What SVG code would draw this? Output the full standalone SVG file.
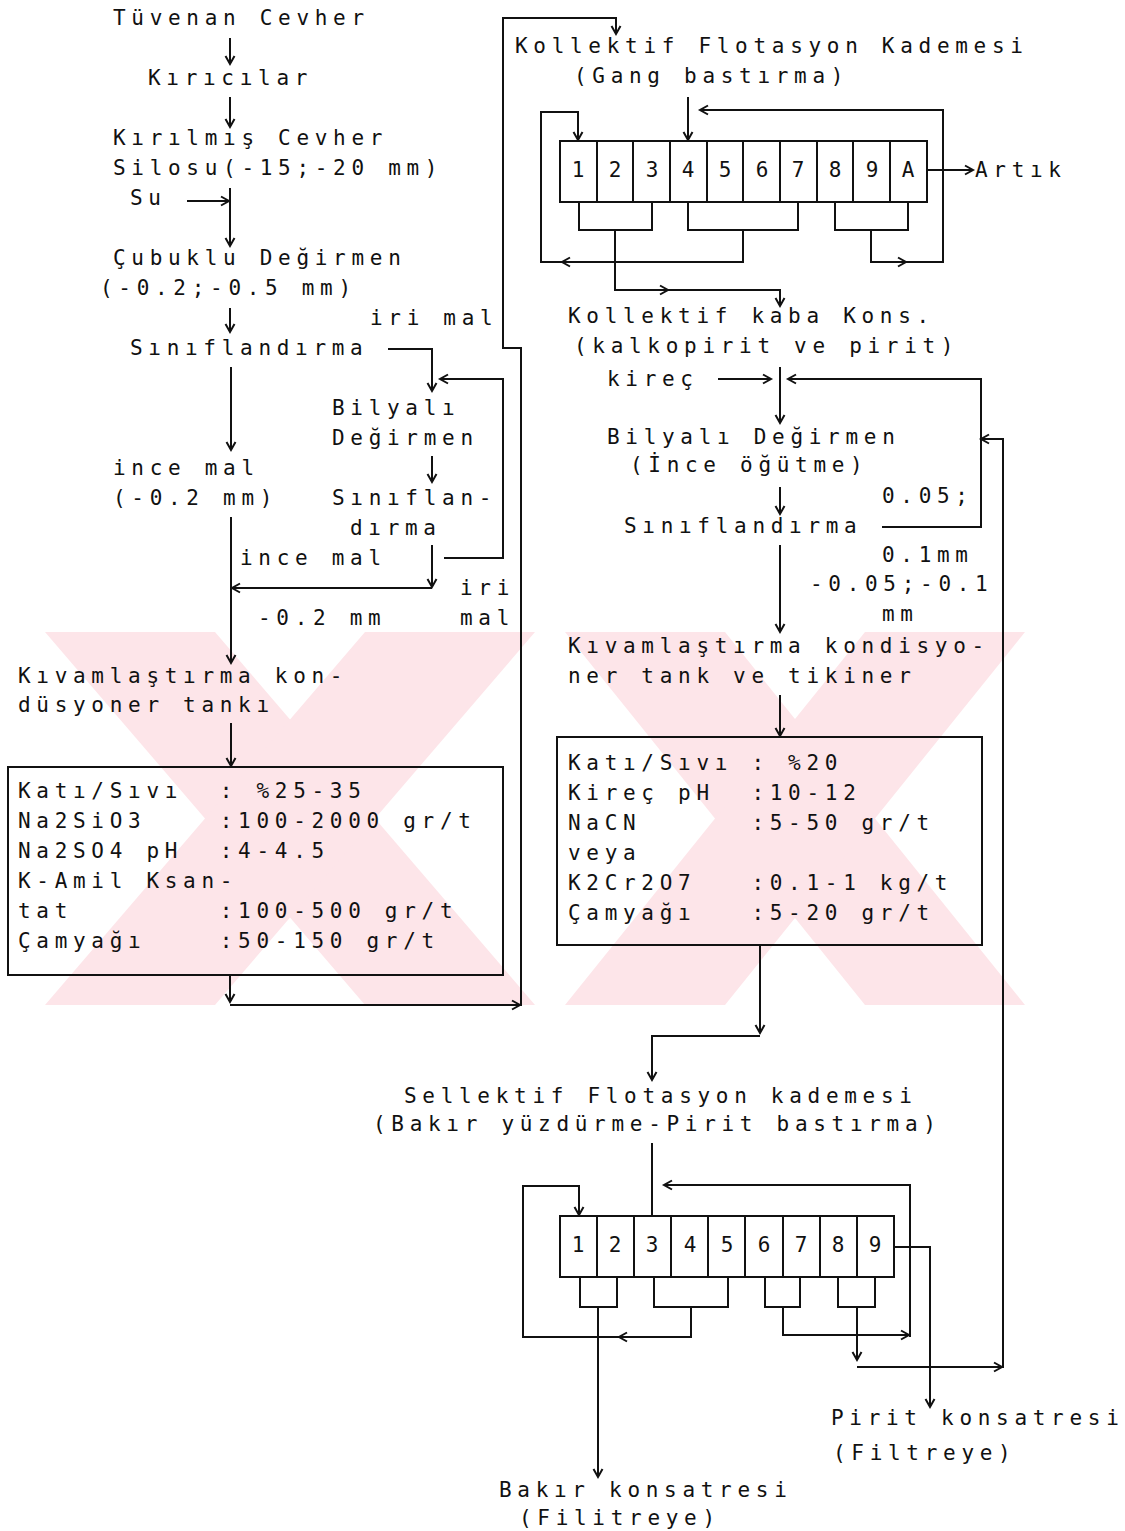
<svg xmlns="http://www.w3.org/2000/svg" width="1125" height="1531" viewBox="0 0 1125 1531">
<defs>
<style>
.t{font-family:"DejaVu Sans Mono","Liberation Mono",monospace;font-size:21px;letter-spacing:5.7px;fill:#111}
.c{font-family:"DejaVu Sans Mono","Liberation Mono",monospace;font-size:21px;fill:#111;text-anchor:middle}
.ln{fill:none;stroke:#111;stroke-width:2}
.bx{fill:none;stroke:#111;stroke-width:2}
.wm{fill:#fde5e9}
</style>
<marker id="ah" markerUnits="userSpaceOnUse" markerWidth="14" markerHeight="14" refX="11" refY="7" orient="auto">
<path d="M3,2.5 L11,7 L3,11.5" fill="none" stroke="#111" stroke-width="2"/>
</marker>
</defs>
<rect width="1125" height="1531" fill="#fff"/>
<g id="watermark">
<polygon class="wm" points="45,632 215,632 535,1005 365,1005"/>
<polygon class="wm" points="365,632 535,632 215,1005 45,1005"/>
<polygon class="wm" points="565,632 725,632 1025,1005 865,1005"/>
<polygon class="wm" points="865,632 1025,632 725,1005 565,1005"/>
</g>

<g id="connectors">
<path class="ln" d="M230,38 V64" marker-end="url(#ah)"/>
<path class="ln" d="M230,97 V127" marker-end="url(#ah)"/>
<path class="ln" d="M187,201 H229" marker-end="url(#ah)"/>
<path class="ln" d="M230,188 V246" marker-end="url(#ah)"/>
<path class="ln" d="M230,308 V332" marker-end="url(#ah)"/>
<path class="ln" d="M388,349 H432 V391" marker-end="url(#ah)"/>
<path class="ln" d="M231,367 V450" marker-end="url(#ah)"/>
<path class="ln" d="M432,456 V482" marker-end="url(#ah)"/>
<path class="ln" d="M432,545 V587" marker-end="url(#ah)"/>
<path class="ln" d="M432,588 H232" marker-end="url(#ah)"/>
<path class="ln" d="M444,558 H503 V379 H440" marker-end="url(#ah)"/>
<path class="ln" d="M231,517 V663" marker-end="url(#ah)"/>
<path class="ln" d="M231,723 V766" marker-end="url(#ah)"/>
<path class="ln" d="M230,976 V1002" marker-end="url(#ah)"/>
<path class="ln" d="M230,1005 H520" marker-end="url(#ah)"/>
<path class="ln" d="M521,1006 V348 H503 V18 H616 V34" marker-end="url(#ah)"/>
<path class="ln" d="M688,97 V140" marker-end="url(#ah)"/>
<path class="ln" d="M743,230 V262 H541 V112 H578 V140" marker-end="url(#ah)"/>
<path class="ln" d="M575,262 H562" marker-end="url(#ah)"/>
<path class="ln" d="M871,230 V262 H943 V110 H700" marker-end="url(#ah)"/>
<path class="ln" d="M893,262 H906" marker-end="url(#ah)"/>
<path class="ln" d="M615,230 V290 H780 V306" marker-end="url(#ah)"/>
<path class="ln" d="M655,290 H668" marker-end="url(#ah)"/>
<path class="ln" d="M927,170 H973" marker-end="url(#ah)"/>
<path class="ln" d="M780,367 V423" marker-end="url(#ah)"/>
<path class="ln" d="M718,379 H771" marker-end="url(#ah)"/>
<path class="ln" d="M882,527 H981 V379 H788" marker-end="url(#ah)"/>
<path class="ln" d="M780,487 V514" marker-end="url(#ah)"/>
<path class="ln" d="M780,545 V632" marker-end="url(#ah)"/>
<path class="ln" d="M780,695 V736" marker-end="url(#ah)"/>
<path class="ln" d="M760,945 V1033" marker-end="url(#ah)"/>
<path class="ln" d="M760,1036 H652 V1080" marker-end="url(#ah)"/>
<path class="ln" d="M652,1143 V1216"/>
<path class="ln" d="M857,1307 V1360" marker-end="url(#ah)"/>
<path class="ln" d="M857,1367 H1002" marker-end="url(#ah)"/>
<path class="ln" d="M1003,1368 V439 H981" marker-end="url(#ah)"/>
<path class="ln" d="M783,1307 V1335 H909" marker-end="url(#ah)"/>
<path class="ln" d="M910,1337 V1185 H664" marker-end="url(#ah)"/>
<path class="ln" d="M691,1307 V1337 H523 V1186 H579 V1215" marker-end="url(#ah)"/>
<path class="ln" d="M632,1337 H619" marker-end="url(#ah)"/>
<path class="ln" d="M598,1307 V1477" marker-end="url(#ah)"/>
<path class="ln" d="M894,1247 H930 V1407" marker-end="url(#ah)"/>
</g>

<g id="n-tuvenan"><text class="t" x="113" y="25">Tüvenan Cevher</text></g>
<g id="n-kiricilar"><text class="t" x="148" y="85">Kırıcılar</text></g>
<g id="n-silo"><text class="t" x="113" y="145">Kırılmış Cevher</text><text class="t" x="113" y="175">Silosu(-15;-20 mm)</text></g>
<g id="n-su"><text class="t" x="130" y="205">Su</text></g>
<g id="n-cubuklu"><text class="t" x="113" y="265">Çubuklu Değirmen</text><text class="t" x="100" y="295">(-0.2;-0.5 mm)</text></g>
<g id="l-irimal1"><text class="t" x="370" y="325">iri mal</text></g>
<g id="n-sinif1"><text class="t" x="130" y="355">Sınıflandırma</text></g>
<g id="n-bilyali1"><text class="t" x="332" y="415">Bilyalı</text><text class="t" x="332" y="445">Değirmen</text></g>
<g id="l-incemal1"><text class="t" x="113" y="475">ince mal</text><text class="t" x="113" y="505">(-0.2 mm)</text></g>
<g id="n-sinif2"><text class="t" x="332" y="505">Sınıflan-</text><text class="t" x="350" y="535">dırma</text></g>
<g id="l-incemal2"><text class="t" x="240" y="565">ince mal</text></g>
<g id="l-irimal2"><text class="t" x="460" y="595">iri</text><text class="t" x="460" y="625">mal</text></g>
<g id="l-02mm"><text class="t" x="258" y="625">-0.2 mm</text></g>
<g id="n-kivam1"><text class="t" x="18" y="683">Kıvamlaştırma kon-</text><text class="t" x="18" y="712">düsyoner tankı</text></g>
<g id="n-box1">
<rect class="bx" x="8" y="767" width="495" height="208"/>
<text class="t" x="18" y="798" xml:space="preserve">Katı/Sıvı  : %25-35</text>
<text class="t" x="18" y="828" xml:space="preserve">Na2SiO3    :100-2000 gr/t</text>
<text class="t" x="18" y="858" xml:space="preserve">Na2SO4 pH  :4-4.5</text>
<text class="t" x="18" y="888" xml:space="preserve">K-Amil Ksan-</text>
<text class="t" x="18" y="918" xml:space="preserve">tat        :100-500 gr/t</text>
<text class="t" x="18" y="948" xml:space="preserve">Çamyağı    :50-150 gr/t</text>
</g>

<g id="n-kollektif">
<text class="t" x="515" y="53">Kollektif Flotasyon Kademesi</text>
<text class="t" x="574" y="83">(Gang bastırma)</text>
</g>
<g id="n-cells1">
<rect class="bx" x="560" y="141" width="367" height="61"/>
<path class="ln" d="M597,141V202M633,141V202M670,141V202M707,141V202M743,141V202M780,141V202M817,141V202M853,141V202M890,141V202"/>
<path class="ln" d="M579,202V230H652V202M688,202V230H798V202M835,202V230H908V202"/>
<text class="c" x="578" y="177">1</text><text class="c" x="615" y="177">2</text><text class="c" x="652" y="177">3</text><text class="c" x="688" y="177">4</text><text class="c" x="725" y="177">5</text><text class="c" x="762" y="177">6</text><text class="c" x="798" y="177">7</text><text class="c" x="835" y="177">8</text><text class="c" x="872" y="177">9</text><text class="c" x="908" y="177">A</text>
</g>
<g id="n-artik"><text class="t" x="975" y="177">Artık</text></g>
<g id="n-kaba"><text class="t" x="568" y="323">Kollektif kaba Kons.</text><text class="t" x="574" y="353">(kalkopirit ve pirit)</text></g>
<g id="n-kirec"><text class="t" x="607" y="386">kireç</text></g>
<g id="n-bilyali2"><text class="t" x="607" y="444">Bilyalı Değirmen</text><text class="t" x="630" y="472">(İnce öğütme)</text></g>
<g id="n-sinif3"><text class="t" x="624" y="533">Sınıflandırma</text></g>
<g id="l-005"><text class="t" x="882" y="503">0.05;</text><text class="t" x="882" y="562">0.1mm</text></g>
<g id="l-m005"><text class="t" x="810" y="591">-0.05;-0.1</text><text class="t" x="882" y="621">mm</text></g>
<g id="n-kivam2"><text class="t" x="568" y="653">Kıvamlaştırma kondisyo-</text><text class="t" x="568" y="683">ner tank ve tikiner</text></g>
<g id="n-box2">
<rect class="bx" x="557" y="737" width="425" height="208"/>
<text class="t" x="568" y="770" xml:space="preserve">Katı/Sıvı : %20</text>
<text class="t" x="568" y="800" xml:space="preserve">Kireç pH  :10-12</text>
<text class="t" x="568" y="830" xml:space="preserve">NaCN      :5-50 gr/t</text>
<text class="t" x="568" y="860" xml:space="preserve">veya</text>
<text class="t" x="568" y="890" xml:space="preserve">K2Cr2O7   :0.1-1 kg/t</text>
<text class="t" x="568" y="920" xml:space="preserve">Çamyağı   :5-20 gr/t</text>
</g>
<g id="n-sellektif"><text class="t" x="404" y="1103">Sellektif Flotasyon kademesi</text><text class="t" x="373" y="1131">(Bakır yüzdürme-Pirit bastırma)</text></g>
<g id="n-cells2">
<rect class="bx" x="560" y="1216" width="334" height="61"/>
<path class="ln" d="M597,1216V1277M634,1216V1277M671,1216V1277M708,1216V1277M745,1216V1277M783,1216V1277M820,1216V1277M857,1216V1277"/>
<path class="ln" d="M580,1277V1307H617V1277M654,1277V1307H728V1277M765,1277V1307H800V1277M838,1277V1307H875V1277"/>
<text class="c" x="578" y="1252">1</text><text class="c" x="615" y="1252">2</text><text class="c" x="652" y="1252">3</text><text class="c" x="690" y="1252">4</text><text class="c" x="727" y="1252">5</text><text class="c" x="764" y="1252">6</text><text class="c" x="801" y="1252">7</text><text class="c" x="838" y="1252">8</text><text class="c" x="875" y="1252">9</text>
</g>
<g id="n-pirit"><text class="t" x="831" y="1425">Pirit konsatresi</text><text class="t" x="833" y="1460">(Filtreye)</text></g>
<g id="n-bakir"><text class="t" x="499" y="1497">Bakır konsatresi</text><text class="t" x="519" y="1525">(Filitreye)</text></g>
</svg>
